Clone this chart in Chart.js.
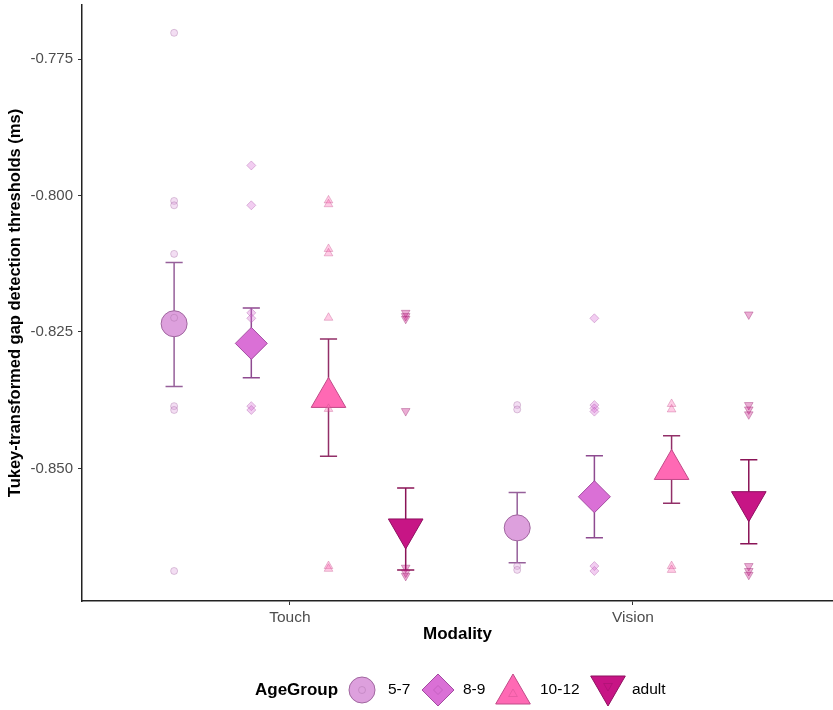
<!DOCTYPE html>
<html lang="en">
<head>
    <meta charset="UTF-8">
    <title>Gap detection thresholds by modality and age group</title>
    <script src="https://cdn.jsdelivr.net/npm/chart.js"></script>
    <style>
        body { margin: 0; background: #fff; }
        #wrap { width: 833px; height: 710px; }
    </style>
</head>
<body>
    <div id="wrap"><canvas id="gapChart" width="833" height="710"></canvas></div>

    <script>
        // categories
        const modalities = ['Touch', 'Vision'];
        const ageGroups = ['5-7', '8-9', '10-12', 'adult'];
        const yTicks = [-0.850, -0.825, -0.800, -0.775];

        // group means and error bar limits (order follows ageGroups)
        const meanTouch = [-0.8235, -0.8271, -0.8370, -0.8611];
        const lowTouch = [-0.8350, -0.8334, -0.8478, -0.8686];
        const highTouch = [-0.8123, -0.8206, -0.8263, -0.8536];

        const meanVision = [-0.8609, -0.8552, -0.8502, -0.8561];
        const lowVision = [-0.8673, -0.8627, -0.8564, -0.8638];
        const highVision = [-0.8544, -0.8477, -0.8440, -0.8484];

        // individual thresholds per age group
        const rawTouch = [
            [-0.7702, -0.8010, -0.8018, -0.8107, -0.8224, -0.8386, -0.8393, -0.8688],
            [-0.7945, -0.8018, -0.8215, -0.8225, -0.8386, -0.8393],
            [-0.8009, -0.8016, -0.8098, -0.8106, -0.8224, -0.8391, -0.8679, -0.8684],
            [-0.8215, -0.8221, -0.8226, -0.8395, -0.8682, -0.8691, -0.8697]
        ];
        const rawVision = [
            [-0.8384, -0.8392, -0.8679, -0.8686],
            [-0.8225, -0.8384, -0.8390, -0.8396, -0.8679, -0.8688],
            [-0.8382, -0.8392, -0.8679, -0.8686],
            [-0.8218, -0.8384, -0.8392, -0.8401, -0.8679, -0.8688, -0.8695]
        ];

        const dodge = [-0.3375, -0.1125, 0.1125, 0.3375];
        const fills = ['#dda0dd', '#da70d6', '#ff69b4', '#c71585'];
        const edges = ['#a0669f', '#a24ba0', '#c04a88', '#8f1060'];
        const barColors = ['#96609a', '#8e4a90', '#922f68', '#8a1457'];
        const shapes = ['circle', 'rectRot', 'triangle', 'triangle'];
        const rotations = [0, 0, 0, 180];
        const bigRadius = [13, 16, 20, 20];
        const smallRadius = [3.5, 4.5, 5, 5];
        const font = '"Liberation Sans", Arial, sans-serif';

        function fade(hex, a) {
            let r = parseInt(hex.slice(1, 3), 16);
            let g = parseInt(hex.slice(3, 5), 16);
            let b = parseInt(hex.slice(5, 7), 16);
            return `rgba(${r},${g},${b},${a})`;
        }

        function noScalePadding(scale) {
            scale.paddingTop = 0;
            scale.paddingBottom = 0;
            scale.paddingLeft = 0;
            scale.paddingRight = 0;
        }

        let datasets = [];
        ageGroups.forEach((g, i) => {
            let pts = [];
            rawTouch[i].forEach(v => pts.push({ x: 1 + dodge[i], y: v }));
            rawVision[i].forEach(v => pts.push({ x: 2 + dodge[i], y: v }));
            datasets.push({
                label: g + ' raw',
                data: pts,
                order: 0,
                pointStyle: shapes[i],
                rotation: rotations[i],
                pointRadius: smallRadius[i],
                backgroundColor: fade(fills[i], 0.35),
                borderColor: fade(edges[i], 0.35),
                borderWidth: 1
            });
        });
        ageGroups.forEach((g, i) => {
            datasets.push({
                label: g,
                data: [
                    { x: 1 + dodge[i], y: meanTouch[i] },
                    { x: 2 + dodge[i], y: meanVision[i] }
                ],
                order: 1,
                pointStyle: shapes[i],
                rotation: rotations[i],
                pointRadius: bigRadius[i],
                backgroundColor: fills[i],
                borderColor: edges[i],
                borderWidth: 1
            });
        });

        const errorBars = {
            id: 'errorBars',
            beforeDatasetsDraw(chart) {
                let ctx = chart.ctx;
                let xs = chart.scales.x, ys = chart.scales.y;
                let cap = 0.025;
                ctx.save();
                ctx.lineWidth = 1.5;
                ageGroups.forEach((g, i) => {
                    ctx.strokeStyle = barColors[i];
                    [[1, lowTouch[i], highTouch[i]], [2, lowVision[i], highVision[i]]].forEach(([m, lo, hi]) => {
                        let x = m + dodge[i];
                        let px = xs.getPixelForValue(x);
                        let x0 = xs.getPixelForValue(x - cap), x1 = xs.getPixelForValue(x + cap);
                        let yl = ys.getPixelForValue(lo), yh = ys.getPixelForValue(hi);
                        ctx.beginPath();
                        ctx.moveTo(px, yl); ctx.lineTo(px, yh);
                        ctx.moveTo(x0, yl); ctx.lineTo(x1, yl);
                        ctx.moveTo(x0, yh); ctx.lineTo(x1, yh);
                        ctx.stroke();
                    });
                });
                ctx.restore();
            }
        };

        const legendKeys = {
            id: 'legendKeys',
            afterDraw(chart) {
                let ctx = chart.ctx;
                let cy = 690;
                ctx.save();
                ctx.fillStyle = '#000';
                ctx.textBaseline = 'middle';
                ctx.font = 'bold 17px ' + font;
                ctx.fillText('AgeGroup', 255, cy);
                ctx.font = '15.5px ' + font;
                let keyX = [362, 438, 513, 608];
                let keyY = [cy, cy, cy + 4, cy - 4];
                let textX = [388, 463, 540, 632];
                ageGroups.forEach((g, i) => {
                    ctx.fillStyle = fills[i];
                    ctx.strokeStyle = edges[i];
                    ctx.lineWidth = 1;
                    Chart.helpers.drawPoint(ctx, { pointStyle: shapes[i], rotation: rotations[i], radius: bigRadius[i], borderWidth: 1 }, keyX[i], keyY[i]);
                    ctx.fillStyle = fade(fills[i], 0.35);
                    ctx.strokeStyle = fade(edges[i], 0.35);
                    Chart.helpers.drawPoint(ctx, { pointStyle: shapes[i], rotation: rotations[i], radius: smallRadius[i], borderWidth: 1 }, keyX[i], keyY[i]);
                    ctx.fillStyle = '#000';
                    ctx.fillText(g, textX[i], cy);
                });
                ctx.restore();
            }
        };

        const ctx = document.getElementById('gapChart').getContext('2d');
        new Chart(ctx, {
            type: 'scatter',
            data: { datasets: datasets },
            plugins: [errorBars, legendKeys],
            options: {
                responsive: false,
                animation: false,
                layout: { autoPadding: false, padding: { top: 5, right: 0, bottom: 50, left: 0 } },
                plugins: {
                    legend: { display: false },
                    tooltip: { enabled: false }
                },
                scales: {
                    x: {
                        type: 'linear',
                        min: 0.394,
                        max: 2.583,
                        afterFit(scale) { scale.height = 59; noScalePadding(scale); },
                        afterBuildTicks(scale) { scale.ticks = [{ value: 1 }, { value: 2 }]; },
                        ticks: {
                            callback: v => modalities[v - 1],
                            color: '#4d4d4d',
                            font: { family: font, size: 15.5 },
                            padding: 3,
                            maxRotation: 0
                        },
                        grid: { drawOnChartArea: false, drawTicks: true, tickLength: 4, color: '#333' },
                        border: { display: true, color: '#222', width: 1.5 },
                        title: {
                            display: true,
                            text: 'Modality',
                            color: '#000',
                            font: { family: font, size: 17, weight: 'bold' },
                            padding: { top: 0, bottom: 15 }
                        }
                    },
                    y: {
                        min: -0.8743,
                        max: -0.7651,
                        afterFit(scale) { scale.width = 82; noScalePadding(scale); },
                        afterBuildTicks(scale) { scale.ticks = yTicks.map(v => ({ value: v })); },
                        ticks: {
                            callback: v => v.toFixed(3),
                            color: '#4d4d4d',
                            font: { family: font, size: 15 },
                            padding: 5
                        },
                        grid: { drawOnChartArea: false, drawTicks: true, tickLength: 4, color: '#333' },
                        border: { display: true, color: '#222', width: 1.5 },
                        title: {
                            display: true,
                            text: 'Tukey-transformed gap detection thresholds (ms)',
                            color: '#000',
                            font: { family: font, size: 16.5, weight: 'bold' },
                            padding: { top: 6, bottom: 0 }
                        }
                    }
                }
            }
        });
    </script>
</body>
</html>
